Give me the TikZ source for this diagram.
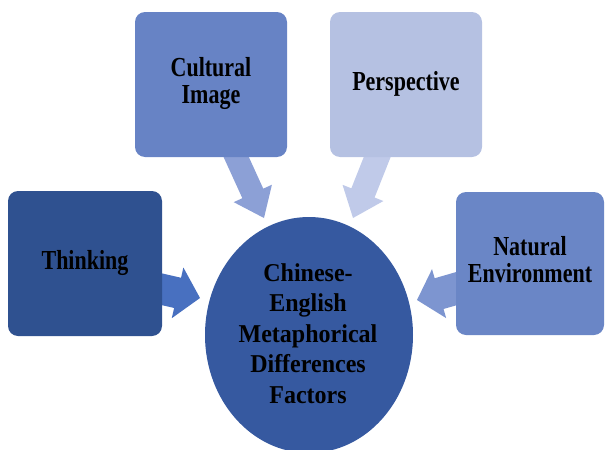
\documentclass[tikz,border=0pt]{standalone}
\usepackage{fontspec}
\setmainfont{Liberation Serif}
\usetikzlibrary{calc,shapes.geometric}
\definecolor{circC}{RGB}{54,89,160}
\definecolor{thinkC}{RGB}{47,81,144}
\definecolor{cultC}{RGB}{103,131,197}
\definecolor{natC}{RGB}{106,134,198}
\definecolor{perspC}{RGB}{181,193,226}
\definecolor{cultA}{RGB}{140,160,214}
\definecolor{perspA}{RGB}{192,202,233}
\definecolor{thinkA}{RGB}{72,112,192}
\definecolor{natA}{RGB}{125,149,208}
% start, tip, shaft half width, head half width, head length, colour
\newcommand{\blockarr}[6]{%
  \coordinate (hb) at ($(#2)!#5!(#1)$);
  \fill[#6] ($(#1)!#3!90:(#2)$) -- ($(hb)!#3!-90:(#1)$) -- ($(hb)!#4!-90:(#1)$)
    -- (#2) -- ($(hb)!#4!90:(#1)$) -- ($(hb)!#3!90:(#1)$) -- ($(#1)!#3!-90:(#2)$) -- cycle;
}
\tikzset{
  box/.style={rounded corners=10pt, inner sep=0pt, text=black},
  boxtext/.style={font=\bfseries\fontsize{22}{21}\selectfont, text=black, inner sep=0pt},
}
\newcommand{\stretchtext}[2]{\scalebox{1}[#1]{\begin{tabular}{@{}c@{}}#2\end{tabular}}}
\begin{document}
\begin{tikzpicture}[x=1pt,y=-1pt]
\useasboundingbox (0,0) rectangle (606,450);
% arrow end points
\coordinate (cs) at (233,150);
\coordinate (ct) at (264,218);
\coordinate (ps) at (380,150);
\coordinate (pt) at (353,218);
\coordinate (ts) at (152,287);
\coordinate (tt) at (200,298);
\coordinate (ns) at (462,287);
\coordinate (nt) at (417,300);
\blockarr{cs}{ct}{11.5pt}{21pt}{27pt}{cultA}
\blockarr{ps}{pt}{12.5pt}{22pt}{27pt}{perspA}
\blockarr{ts}{tt}{15.5pt}{26pt}{23pt}{thinkA}
\blockarr{ns}{nt}{16pt}{25.5pt}{23pt}{natA}
% boxes
\node[box, fill=cultC, minimum width=152pt, minimum height=145pt] (cult) at (211,84.5) {};
\node[boxtext] at (cult.center) {\stretchtext{1.25}{Cultural\\Image}};
\node[box, fill=perspC, minimum width=152pt, minimum height=145pt] (persp) at (406,84.5) {};
\node[boxtext] at (persp.center) {\stretchtext{1.25}{Perspective}};
\node[box, fill=thinkC, minimum width=154pt, minimum height=145pt] (think) at (85,263.5) {};
\node[boxtext] at (think.center) {\stretchtext{1.25}{Thinking}};
\node[box, fill=natC, minimum width=148pt, minimum height=143pt] (nat) at (530,263.5) {};
\node[boxtext] at (nat.center) {\stretchtext{1.25}{Natural\\Environment}};
% circle
\node[ellipse, fill=circC, inner sep=0pt, minimum width=208pt, minimum height=236pt] (core) at (309,335) {};
\node[inner sep=0pt, font=\bfseries\fontsize{24}{28.5}\selectfont] (coretext) at (308,336)
  {\stretchtext{1.07}{Chinese-\\English\\Metaphorical\\Differences\\Factors}};
\end{tikzpicture}
\end{document}
